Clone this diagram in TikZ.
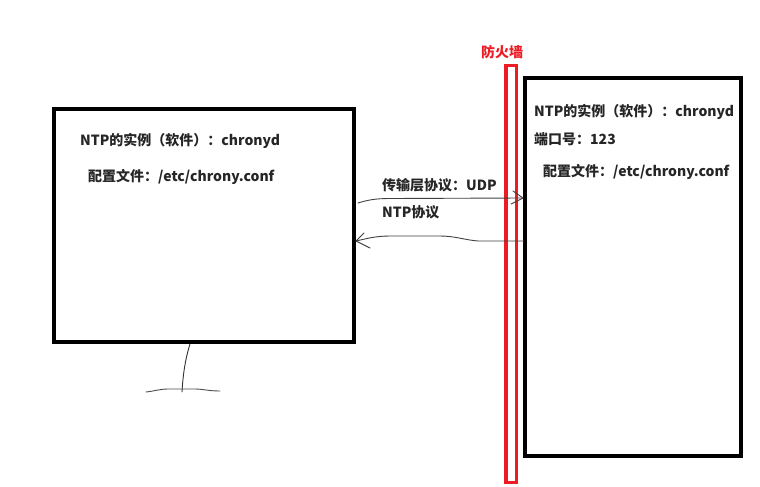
\documentclass[tikz,border=0pt]{standalone}
\usepackage{fontspec}
\setmainfont{Noto Sans CJK SC}
\definecolor{pred}{RGB}{237,28,36}
\begin{document}
\begin{tikzpicture}[x=1pt,y=-1pt,
  box/.style={draw=black,line width=4pt},
  wall/.style={draw=pred,line width=3.5pt},
  lbl/.style={anchor=west,inner sep=0pt,font=\bfseries\fontsize{14}{16}\selectfont,text=black!85},
  hand/.style={draw=black!75,line width=0.9pt,line cap=round,line join=round}]
\useasboundingbox[fill=white] (0,0) rectangle (760,487);
% boxes
\draw[box] (54,109) rectangle (354,342);
\draw[box] (525,78) rectangle (741,456);
\draw[wall] (506,65.5) rectangle (516.5,482.5);
\node[anchor=center,inner sep=0pt,text=pred,font=\bfseries\fontsize{14}{16}\selectfont] (fw) at (502,52) {防火墙};
% left box texts
\node[lbl] (l1) at (80,141) {NTP的实例（软件）：chronyd};
\node[lbl] (l2) at (88,177) {配置文件：/etc/chrony.conf};
% right box texts
\node[lbl] (r1) at (534,112) {NTP的实例（软件）：chronyd};
\node[lbl] (r2) at (534,139) {端口号：123};
\node[lbl] (r3) at (543,172) {配置文件：/etc/chrony.conf};
% arrow labels
\node[lbl] (a1) at (382,185) {传输层协议：UDP};
\node[lbl] (a2) at (382,212) {NTP协议};
% arrow 1 (left to right)
\coordinate (s1) at (358,203);
\coordinate (e1) at (523,198);
\draw[hand] (s1) .. controls (368,200) and (375,198.5) .. (390,198.5) -- (e1);
\draw[hand] (513,191) -- (e1) -- (511,204);
% arrow 2 (right to left)
\coordinate (s2) at (524,241);
\coordinate (e2) at (356,241);
\draw[hand] (s2) -- (478,241) .. controls (465,240) and (455,236) .. (440,236) -- (390,236) .. controls (375,236) and (365,239) .. (e2);
\draw[hand] (364,233) -- (e2) -- (370,248);
% stand
\coordinate (t0) at (190,344);
\coordinate (t1) at (182,392);
\draw[hand,draw=black!80] (t0) .. controls (185,360) and (183,375) .. (t1);
\draw[hand,draw=black!70] (146,392) .. controls (155,391) and (160,389) .. (168,389) -- (195,389) .. controls (203,389) and (208,391) .. (220,391);
\end{tikzpicture}
\end{document}
